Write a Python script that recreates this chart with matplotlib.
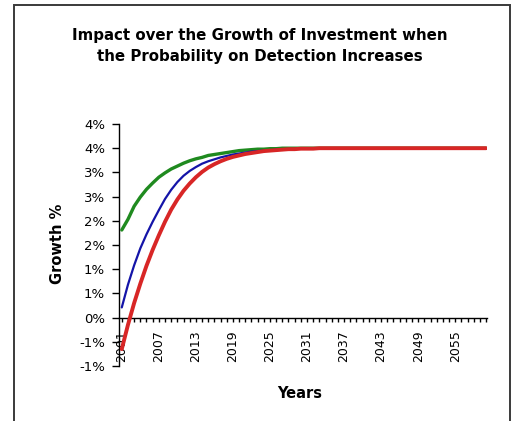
import matplotlib
matplotlib.use("Agg")
import matplotlib.pyplot as plt
from matplotlib.patches import Rectangle

years = list(range(2001, 2061))

green = [1.81, 2.03, 2.30, 2.49, 2.65, 2.78, 2.90, 2.99, 3.07, 3.13,
         3.19, 3.24, 3.28, 3.31, 3.35, 3.37, 3.39, 3.41, 3.43, 3.45,
         3.46, 3.47, 3.48, 3.48, 3.49, 3.49, 3.50, 3.50, 3.50, 3.50,
         3.50, 3.50, 3.50, 3.50, 3.50, 3.50, 3.50, 3.50, 3.50, 3.50,
         3.50, 3.50, 3.50, 3.50, 3.50, 3.50, 3.50, 3.50, 3.50, 3.50,
         3.50, 3.50, 3.50, 3.50, 3.50, 3.50, 3.50, 3.50, 3.50, 3.50]

blue = [0.21, 0.68, 1.08, 1.43, 1.72, 1.98, 2.22, 2.45, 2.64, 2.80,
        2.93, 3.03, 3.11, 3.18, 3.23, 3.27, 3.31, 3.34, 3.37, 3.39,
        3.41, 3.43, 3.44, 3.45, 3.46, 3.47, 3.47, 3.48, 3.48, 3.49,
        3.49, 3.49, 3.49, 3.50, 3.50, 3.50, 3.50, 3.50, 3.50, 3.50,
        3.50, 3.50, 3.50, 3.50, 3.50, 3.50, 3.50, 3.50, 3.50, 3.50,
        3.50, 3.50, 3.50, 3.50, 3.50, 3.50, 3.50, 3.50, 3.50, 3.50]

red = [-0.65, -0.15, 0.30, 0.70, 1.07, 1.40, 1.70, 1.98, 2.23, 2.44,
       2.62, 2.77, 2.90, 3.01, 3.10, 3.17, 3.23, 3.28, 3.32, 3.35,
       3.38, 3.40, 3.42, 3.44, 3.45, 3.46, 3.47, 3.48, 3.48, 3.49,
       3.49, 3.49, 3.50, 3.50, 3.50, 3.50, 3.50, 3.50, 3.50, 3.50,
       3.50, 3.50, 3.50, 3.50, 3.50, 3.50, 3.50, 3.50, 3.50, 3.50,
       3.50, 3.50, 3.50, 3.50, 3.50, 3.50, 3.50, 3.50, 3.50, 3.50]

y_ticks = [-1.0, -0.5, 0.0, 0.5, 1.0, 1.5, 2.0, 2.5, 3.0, 3.5, 4.0]
y_tick_labels = ["-1%", "-1%", "0%", "1%", "1%", "2%", "2%", "3%", "3%", "4%", "4%"]
x_label_years = list(range(2001, 2060, 6))

title = "Impact over the Growth of Investment when\nthe Probability on Detection Increases"

plt.rcParams['font.family'] = ['DejaVu Sans']

W, H = 516, 421
fig = plt.figure(figsize=(W / 100, H / 100), dpi=100)
fig.patch.set_facecolor('white')

# outer chart frame
fig.patches.append(Rectangle((14 / W, -0.02), (510 - 14) / W, (H - 5) / H + 0.02,
                             transform=fig.transFigure, fill=False,
                             edgecolor='#3a3a3a', linewidth=1.4))

ax = fig.add_axes([119 / W, 1 - 366 / H, (487 - 119) / W, (366 - 124) / H])
ax.set_facecolor('white')

ax.plot(years, green, color='#1f8a1f', linewidth=2.4, solid_capstyle='round', zorder=3)
ax.plot(years, blue, color='#1414a8', linewidth=1.6, solid_capstyle='round', zorder=4)
ax.plot(years, red, color='#d82626', linewidth=2.8, solid_capstyle='round', zorder=5)

ax.set_ylim(-1.0, 4.0)
ax.set_xlim(2000.55, 2060.15)

ax.spines['top'].set_visible(False)
ax.spines['right'].set_visible(False)
ax.spines['bottom'].set_position(('data', 0))
ax.spines['left'].set_linewidth(1.0)
ax.spines['bottom'].set_linewidth(1.0)

ax.set_yticks(y_ticks)
ax.set_yticklabels(y_tick_labels, fontsize=9.5)
ax.tick_params(axis='y', direction='out', length=5, width=1, pad=5)

ax.set_xticks(years, minor=True)
ax.set_xticks(x_label_years)
ax.set_xticklabels([str(y) for y in x_label_years], rotation=90, fontsize=9)
ax.tick_params(axis='x', which='both', direction='out', length=3, width=1, pad=6)

fig.text(260 / W, 1 - 46 / H, title, ha='center', va='center', fontsize=10.8,
         fontweight='bold', linespacing=1.45)
fig.text(57 / W, 1 - 244 / H, "Growth %", ha='center', va='center', rotation=90,
         fontsize=10.5, fontweight='bold')
fig.text(300 / W, 1 - 393 / H, "Years", ha='center', va='center',
         fontsize=10.5, fontweight='bold')

fig.savefig("out.png", dpi=100, facecolor='white')
